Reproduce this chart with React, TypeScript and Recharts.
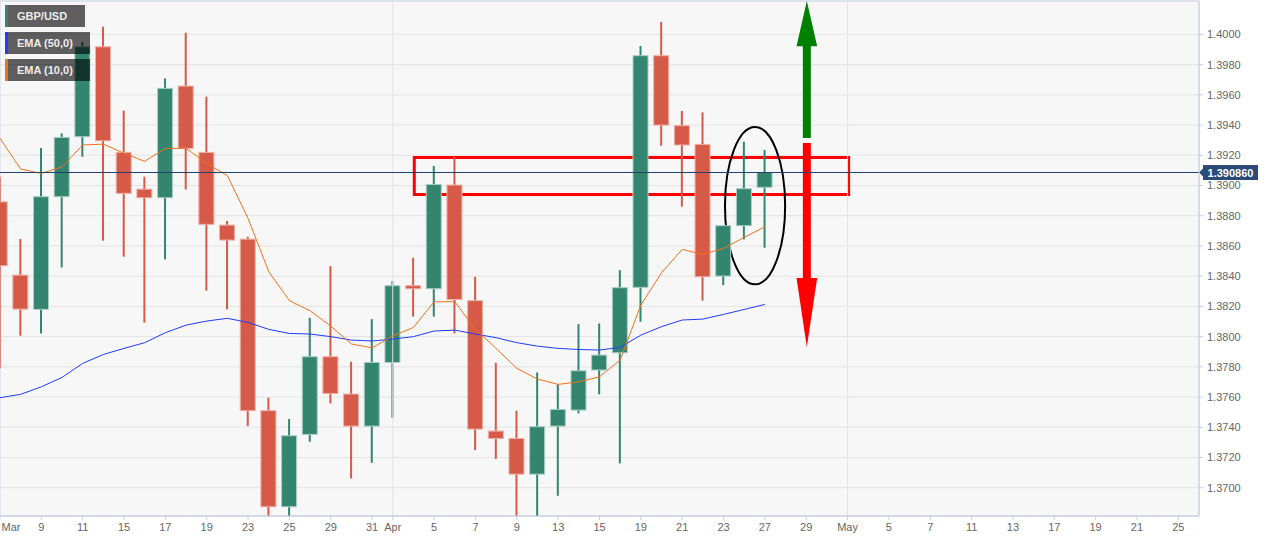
import {
  Bar,
  CartesianGrid,
  ComposedChart,
  Line,
  ReferenceArea,
  ReferenceLine,
  XAxis,
  YAxis,
} from "recharts";

// daily GBP/USD candles, Mar 5 .. Apr 27 (slot index = trading day)
const OPEN = [
  1.38892, 1.38407, 1.3818, 1.38926, 1.39323, 1.39918, 1.39219, 1.38976, 1.38919, 1.39658,
  1.39219, 1.38738, 1.38645, 1.3751, 1.36874, 1.37353, 1.37867, 1.3762, 1.37408, 1.37829,
  1.38337, 1.38317, 1.39003, 1.38238, 1.37375, 1.37326, 1.3709, 1.37408, 1.37514, 1.37779,
  1.37893, 1.38326, 1.39859, 1.39396, 1.39272, 1.38401, 1.38734, 1.38988,
];
const HIGH = [
  1.39058, 1.38646, 1.39248, 1.39345, 1.39949, 1.40051, 1.39495, 1.39058, 1.39709, 1.40011,
  1.39588, 1.38765, 1.38661, 1.37596, 1.37454, 1.38125, 1.38467, 1.37834, 1.38116, 1.38368,
  1.38522, 1.39129, 1.39191, 1.38396, 1.37827, 1.3751, 1.37763, 1.37684, 1.38083, 1.38087,
  1.3844, 1.39923, 1.40082, 1.39493, 1.39484, 1.38734, 1.3929, 1.39235,
];
const LOW = [
  1.3779, 1.38006, 1.38021, 1.38458, 1.3919, 1.38635, 1.38529, 1.38092, 1.38511, 1.38974,
  1.38304, 1.3818, 1.37408, 1.368, 1.368, 1.37304, 1.37558, 1.37062, 1.37165, 1.37463,
  1.38132, 1.38132, 1.38021, 1.37249, 1.3719, 1.368, 1.368, 1.36947, 1.37492, 1.37618,
  1.37161, 1.38099, 1.39263, 1.3886, 1.38238, 1.38341, 1.38643, 1.38588,
];
const CLOSE = [
  1.38469, 1.38182, 1.38926, 1.39318, 1.39918, 1.39296, 1.38948, 1.38919, 1.39643, 1.39246,
  1.38743, 1.38639, 1.3751, 1.36874, 1.37344, 1.37867, 1.37624, 1.37408, 1.37829, 1.38337,
  1.38317, 1.39007, 1.38246, 1.37388, 1.37326, 1.3709, 1.37404, 1.37518, 1.37774, 1.37878,
  1.38324, 1.39859, 1.394, 1.39268, 1.38396, 1.38734, 1.38979, 1.39086,
];
const EMA10 = [
  1.39312, 1.39109, 1.3908, 1.39124, 1.39268, 1.39274, 1.39213, 1.3916, 1.39246, 1.39246,
  1.39146, 1.39065, 1.38782, 1.3843, 1.38238, 1.38171, 1.3807, 1.37951, 1.37926, 1.38004,
  1.38061, 1.38231, 1.38231, 1.38048, 1.37922, 1.3779, 1.37719, 1.37684, 1.37701, 1.37734,
  1.37845, 1.38209, 1.38423, 1.38577, 1.38544, 1.38584, 1.38657, 1.38727,
];
const EMA50 = [
  1.37596, 1.37618, 1.37668, 1.3773, 1.37823, 1.37882, 1.37922, 1.3796, 1.38026, 1.38076,
  1.38103, 1.38121, 1.38094, 1.38048, 1.38021, 1.38017, 1.38, 1.37977, 1.37971, 1.37984,
  1.38, 1.38037, 1.38043, 1.38017, 1.37993, 1.3796, 1.37937, 1.37922, 1.37915, 1.37911,
  1.37929, 1.3801, 1.38066, 1.3811, 1.38116, 1.38147, 1.3818, 1.38213,
];

const TICK_INDEX = [
  0, 2, 4, 6, 8, 10, 12, 14, 16, 18, 19, 21, 23, 25, 27, 29, 31, 33, 35, 37, 39, 41, 43, 45,
  47, 49, 51, 53, 55, 57,
];
const TICK_LABELS = [
  "Mar", "9", "11", "15", "17", "19", "23", "25", "29", "31", "Apr", "5", "7", "9", "13", "15",
  "19", "21", "23", "27", "29", "May", "5", "7", "11", "13", "17", "19", "21", "25",
];
const MONTH_STARTS = [19, 41];
const Y_TICKS = [
  1.37, 1.372, 1.374, 1.376, 1.378, 1.38, 1.382, 1.384, 1.386, 1.388, 1.39, 1.392, 1.394,
  1.396, 1.398, 1.4,
];
const Y_DOMAIN = [1.36813, 1.40221];
const X_DOMAIN = [0, 58];

const LAST_PRICE = 1.39086;
const ZONE = { x1: 20.04, x2: 41.05, y1: 1.38941, y2: 1.39186 };
const CIRCLE = { x1: 35.07, x2: 37.98, y1: 1.38346, y2: 1.39387 };
const UP_ARROW = { x: 39.03, tail: 1.39314, head: 1.39922, tip: 1.40221 };
const DOWN_ARROW = { x: 39.03, tail: 1.39281, head: 1.38388, tip: 1.37931 };

const GREEN = "#34856f";
const RED = "#d55a48";
const LEGEND = [
  { label: "GBP/USD", color: GREEN, top: 5, width: 80 },
  { label: "EMA (50,0)", color: "#1f3cff", top: 32, width: 85 },
  { label: "EMA (10,0)", color: "#f2711c", top: 59, width: 85 },
];

const data = OPEN.map((open, i) => ({
  i,
  open,
  high: HIGH[i],
  low: LOW[i],
  close: CLOSE[i],
  range: [LOW[i], HIGH[i]],
  ema10: EMA10[i],
  ema50: EMA50[i],
}));

const Candle = (props: any) => {
  const { x, y, width, height, payload } = props;
  const { open, close, high, low } = payload;
  const up = close >= open;
  const k = height / (high - low);
  const py = (v: number) => y + (high - v) * k;
  const top = py(Math.max(open, close));
  const bottom = py(Math.min(open, close));
  const cx = x + width / 2;
  const fill = up ? GREEN : RED;
  return (
    <g>
      <rect x={cx - 1} y={y} width={2} height={height} fill={fill} />
      <rect
        x={x + 0.5}
        y={top}
        width={width - 1}
        height={Math.max(bottom - top, 2)}
        fill={fill}
        stroke={up ? "#a9cec3" : "#efb0a6"}
        strokeWidth={1}
      />
    </g>
  );
};

const XTick = (props: any) => {
  const { x, y, payload } = props;
  const label = TICK_LABELS[TICK_INDEX.indexOf(payload.value)];
  return (
    <text x={Math.max(x, 11)} y={y} dy={9} textAnchor="middle" fill="#666" fontSize={11}>
      {label}
    </text>
  );
};

const PriceTag = (props: any) => {
  const { x, y, width } = props.viewBox;
  const lx = x + width;
  return (
    <g>
      <polygon
        points={`${lx},${y} ${lx + 4},${y - 4} ${lx + 4},${y + 4}`}
        fill="#2b4a78"
      />
      <rect x={lx + 4} y={y - 7.5} width={55} height={15} fill="#2b4a78" />
      <text
        x={lx + 31.5}
        y={y + 0.5}
        dominantBaseline="central"
        textAnchor="middle"
        fill="#fff"
        fontSize={11}
        fontWeight="bold"
      >
        {LAST_PRICE.toFixed(6)}
      </text>
    </g>
  );
};

const Ellipse = (props: any) => {
  const { x, y, width, height } = props;
  return (
    <ellipse
      cx={x + width / 2}
      cy={y + height / 2}
      rx={width / 2}
      ry={height / 2}
      fill="none"
      stroke="#000"
      strokeWidth={2}
    />
  );
};

const makeArrow = (a: typeof UP_ARROW, color: string) => (props: any) => {
  const { x, y, width, height } = props;
  const up = a.tip > a.tail;
  const cx = x + width / 2;
  const tipY = up ? y : y + height;
  const tailY = up ? y + height : y;
  const headY = tipY + ((tailY - tipY) * (a.tip - a.head)) / (a.tip - a.tail);
  const s = 4;
  const pts = [
    [cx, tipY],
    [x + width, headY],
    [cx + s, headY],
    [cx + s, tailY],
    [cx - s, tailY],
    [cx - s, headY],
    [x, headY],
  ]
    .map((p) => p.join(","))
    .join(" ");
  return <polygon points={pts} fill={color} />;
};

export default function App() {
  return (
    <div
      style={{
        position: "absolute",
        left: 0,
        top: 0,
        width: 1270,
        height: 542,
        background: "#fff",
        fontFamily: "'Liberation Sans', Arial, sans-serif",
      }}
    >
      <ComposedChart
        width={1270}
        height={542}
        data={data}
        margin={{ top: 1, right: 0, left: 0, bottom: 0 }}
      >
        <CartesianGrid vertical={false} stroke="#e3e3e3" fill="#f7f7f7" />
        {MONTH_STARTS.map((m) => (
          <ReferenceLine key={m} x={m} stroke="#e3e3e3" />
        ))}
        <XAxis
          dataKey="i"
          type="number"
          domain={X_DOMAIN}
          allowDataOverflow
          ticks={TICK_INDEX}
          interval={0}
          tick={<XTick />}
          height={26}
          stroke="#c6cfe2"
          tickSize={4}
          tickMargin={2}
        />
        <YAxis
          orientation="right"
          domain={Y_DOMAIN}
          allowDataOverflow
          ticks={Y_TICKS}
          interval={0}
          tickFormatter={(v: number) => v.toFixed(4)}
          width={71}
          stroke="#c6cfe2"
          tickSize={4}
          tickMargin={4}
          tick={{ fill: "#666", fontSize: 11 }}
        />
        <ReferenceArea
          x1={X_DOMAIN[0]}
          x2={X_DOMAIN[1]}
          y1={Y_DOMAIN[0]}
          y2={Y_DOMAIN[1]}
          fill="none"
          stroke="#cfd6e6"
          fillOpacity={0}
        />
        <Bar dataKey="range" barSize={16} shape={<Candle />} isAnimationActive={false} />
        <Line
          dataKey="ema50"
          stroke="#1f3cff"
          strokeWidth={1}
          dot={false}
          isAnimationActive={false}
        />
        <Line
          dataKey="ema10"
          stroke="#f2711c"
          strokeWidth={1}
          dot={false}
          isAnimationActive={false}
        />
        <ReferenceLine y={LAST_PRICE} stroke="#22406e" label={PriceTag} />
        <ReferenceArea
          x1={ZONE.x1}
          x2={ZONE.x2}
          y1={ZONE.y1}
          y2={ZONE.y2}
          fill="none"
          fillOpacity={0}
          stroke="#ff0000"
          strokeWidth={3}
          ifOverflow="visible"
        />
        <ReferenceArea
          x1={CIRCLE.x1}
          x2={CIRCLE.x2}
          y1={CIRCLE.y1}
          y2={CIRCLE.y2}
          shape={Ellipse}
          ifOverflow="visible"
        />
        <ReferenceArea
          x1={UP_ARROW.x - 0.5}
          x2={UP_ARROW.x + 0.5}
          y1={UP_ARROW.tail}
          y2={UP_ARROW.tip}
          shape={makeArrow(UP_ARROW, "#008000")}
          ifOverflow="visible"
        />
        <ReferenceArea
          x1={DOWN_ARROW.x - 0.5}
          x2={DOWN_ARROW.x + 0.5}
          y1={DOWN_ARROW.tip}
          y2={DOWN_ARROW.tail}
          shape={makeArrow(DOWN_ARROW, "#ff0000")}
          ifOverflow="visible"
        />
      </ComposedChart>
      {LEGEND.map((l) => (
        <div
          key={l.label}
          style={{
            position: "absolute",
            left: 5,
            top: l.top,
            width: l.width,
            height: 22,
            background: "rgba(0,0,0,0.62)",
            borderLeft: `3px solid ${l.color}`,
            boxSizing: "border-box",
            color: "#ececec",
            fontSize: 11,
            fontWeight: "bold",
            lineHeight: "22px",
            paddingLeft: 9,
            whiteSpace: "nowrap",
          }}
        >
          {l.label}
        </div>
      ))}
    </div>
  );
}
